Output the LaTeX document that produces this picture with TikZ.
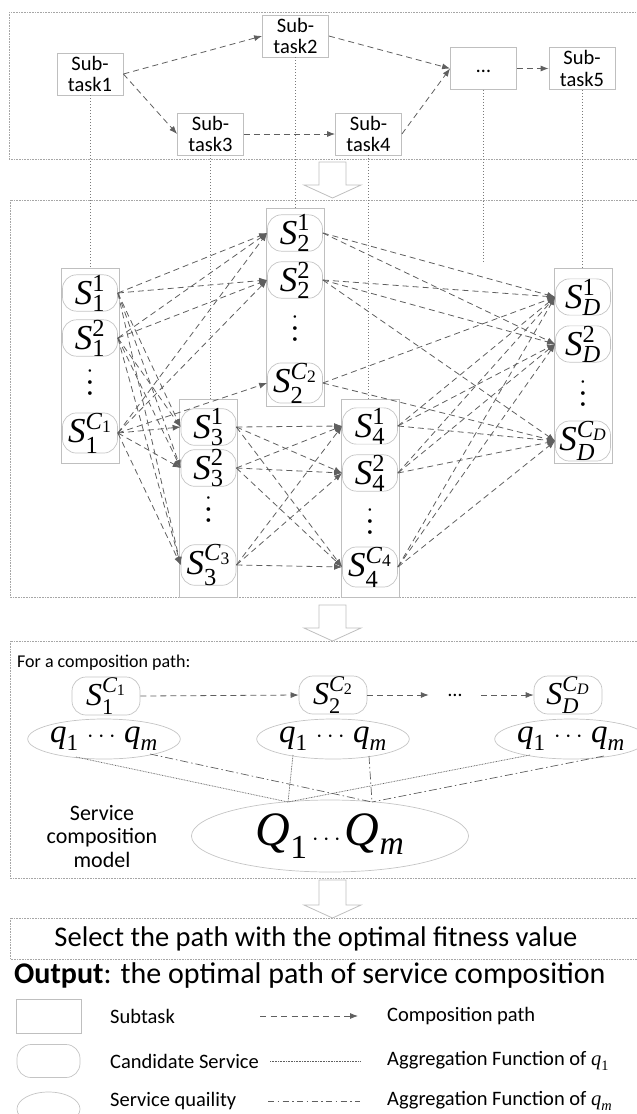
\documentclass[tikz,border=0pt]{standalone}
\usepackage{amsmath}
\usepackage{fontspec}
\setmainfont{Carlito}
\newfontfamily\tim{Liberation Serif}
\usetikzlibrary{arrows.meta,calc,shapes.geometric}
\definecolor{framegray}{HTML}{A6A6A6}
\definecolor{boxgray}{HTML}{BFBFBF}
\definecolor{nodegray}{HTML}{C4C4C4}
\definecolor{linegray}{HTML}{5F5F5F}
\definecolor{guidegray}{HTML}{7A7A7A}
\newcommand{\mi}[1]{\text{\tim\itshape #1}}
\newcommand{\mr}[1]{\text{\tim #1}}
\newcommand{\Sv}[2]{$\mi{S}^{#2}_{#1}$}
\newcommand{\vd}{\tim •\\•\\•}
\begin{document}
\begin{tikzpicture}[x=1pt,y=-1pt,
  frame/.style={draw=framegray, line width=0.6pt, dash pattern=on 0.8pt off 0.8pt},
  task/.style={draw=boxgray, line width=0.8pt, minimum width=66pt, minimum height=42pt, inner sep=0pt, align=center, font=\fontsize{20.5}{21.5}\selectfont},
  grp/.style={draw=boxgray, line width=0.8pt, minimum width=58pt, inner sep=0pt},
  cand/.style={draw=nodegray, line width=0.7pt, rounded corners=14pt, minimum width=55pt, minimum height=35pt, inner sep=0pt, font=\fontsize{35}{35}\selectfont},
  cand2/.style={cand, minimum width=68pt, minimum height=38pt, font=\fontsize{32}{32}\selectfont},
  qell/.style={ellipse, draw=nodegray, line width=0.7pt, minimum width=132pt, minimum height=40pt, inner sep=0pt, font=\fontsize{33}{33}\selectfont},
  vdot/.style={align=center, inner sep=0pt, font=\fontsize{10.5}{11}\selectfont},
  cpath/.style={draw=linegray, line width=0.8pt, dash pattern=on 6pt off 4pt, -{Latex[length=8pt,width=6pt]}},
  guide/.style={draw=guidegray, line width=0.7pt, dash pattern=on 1pt off 2pt},
  agg1/.style={draw=linegray, line width=0.7pt, dash pattern=on 0.8pt off 0.8pt},
  aggm/.style={draw=linegray, line width=0.7pt, dash pattern=on 8pt off 3pt on 1.5pt off 3pt},
  barrow/.style={draw=boxgray, line width=0.8pt, fill=white},
  txt/.style={inner sep=0pt, font=\fontsize{20.5}{22}\selectfont}
]
\useasboundingbox (0,0) rectangle (637,1114);

% frames
\draw[frame] (9,12) rectangle (645,159);
\draw[frame] (10,200) rectangle (645,597);
\draw[frame] (10,641) rectangle (645,878);
\draw[frame] (10,918) rectangle (645,959);

% block arrows
\draw[barrow] (319,162) -- (346,162) -- (346,185) -- (361,185) -- (332.5,198) -- (304,185) -- (319,185) -- cycle;
\draw[barrow] (319,605) -- (346,605) -- (346,628) -- (361,628) -- (332.5,641) -- (304,628) -- (319,628) -- cycle;
\draw[barrow] (319,880) -- (346,880) -- (346,905) -- (361,905) -- (332.5,918) -- (304,905) -- (319,905) -- cycle;

% subtasks
\node[task] (st1) at (90,74) {Sub-\\task1};
\node[task] (st2) at (295.5,36) {Sub-\\task2};
\node[task] (st3) at (210.5,134) {Sub-\\task3};
\node[task] (st4) at (368.5,134) {Sub-\\task4};
\node[task] (dd) at (483.5,68.5) {\strut…};
\node[task] (st5) at (582,68.5) {Sub-\\task5};

\draw[cpath] (st1.east) -- (st2.west);
\draw[cpath] (st1.east) -- (st3.west);
\draw[cpath] (st2.east) -- (dd.west);
\draw[cpath] (st3.east) -- (st4.west);
\draw[cpath] (st4.east) -- (dd.west);
\draw[cpath] (dd.east) -- (st5.west);

% groups
\node[grp, minimum height=195pt] (g1) at (90,365.5) {};
\node[grp, minimum height=198pt] (g2) at (295,307) {};
\node[grp, minimum height=198pt] (g3) at (208.5,498) {};
\node[grp, minimum height=198pt] (g4) at (370,498) {};
\node[grp, minimum height=195pt] (gd) at (583,365.5) {};

% guides
\coordinate (ddend) at (483.5,262);
\draw[guide] (st1.south) -- (st1.south |- g1.north);
\draw[guide] (st2.south) -- (st2.south |- g2.north);
\draw[guide] (st3.south) -- (st3.south |- g3.north);
\draw[guide] (st4.south) -- (st4.south |- g4.north);
\draw[guide] (dd.south) -- (ddend);
\draw[guide] (st5.south) -- (st5.south |- gd.north);

% candidate services
\node[cand] (s11) at (90,293) {\Sv{\mr{1}}{\mr{1}}};
\node[cand] (s12) at (90,338) {\Sv{\mr{1}}{\mr{2}}};
\node[vdot] (v1) at (90,383) {\vd};
\node[cand] (s1c) at (90,433) {\Sv{\mr{1}}{\mi{C}_{\mr{1}}}};

\node[cand] (s21) at (295,233) {\Sv{\mr{2}}{\mr{1}}};
\node[cand] (s22) at (295,280) {\Sv{\mr{2}}{\mr{2}}};
\node[vdot] (v2) at (295,329) {\vd};
\node[cand] (s2c) at (295,383) {\Sv{\mr{2}}{\mi{C}_{\mr{2}}}};

\node[cand] (s31) at (208.5,427) {\Sv{\mr{3}}{\mr{1}}};
\node[cand] (s32) at (208.5,468) {\Sv{\mr{3}}{\mr{2}}};
\node[vdot] (v3) at (208.5,510) {\vd};
\node[cand] (s3c) at (208.5,565) {\Sv{\mr{3}}{\mi{C}_{\mr{3}}}};

\node[cand] (s41) at (370,426) {\Sv{\mr{4}}{\mr{1}}};
\node[cand] (s42) at (370,473) {\Sv{\mr{4}}{\mr{2}}};
\node[vdot] (v4) at (370,522) {\vd};
\node[cand] (s4c) at (370,567) {\Sv{\mr{4}}{\mi{C}_{\mr{4}}}};

\node[cand] (sd1) at (583,297) {\Sv{\mi{D}}{\mr{1}}};
\node[cand] (sd2) at (583,344) {\Sv{\mi{D}}{\mr{2}}};
\node[vdot] (vd) at (583,394) {\vd};
\node[cand] (sdc) at (583,441) {\Sv{\mi{D}}{\mi{C}_{\mi{D}}}};

\foreach \a/\b in {s11/s21,s11/s22,s12/s21,s12/s22,s1c/s21,s1c/s22,s1c/s2c,
  s11/s31,s11/s32,s11/s3c,s12/s31,s12/s32,s12/s3c,s1c/s31,s1c/s32,s1c/s3c,
  s21/sd1,s21/sd2,s22/sd1,s22/sd2,s22/sdc,s2c/sd1,s2c/sdc,
  s31/s41,s31/s42,s31/s4c,s32/s41,s32/s42,s32/s4c,s3c/s41,s3c/s42,s3c/s4c,
  s41/sd1,s41/sd2,s41/sdc,s42/sd1,s42/sd2,s42/sdc,s4c/sd1,s4c/sd2,s4c/sdc}
  \draw[cpath] (\a.east) -- (\b.west);

% composition path section
\node[anchor=west, inner sep=0pt, font=\fontsize{18}{20}\selectfont] (fcp) at (17,663) {For a composition path:};
\node[cand2] (c1) at (106,696) {\Sv{\mr{1}}{\mi{C}_{\mr{1}}}};
\node[cand2] (c2) at (333,695) {\Sv{\mr{2}}{\mi{C}_{\mr{2}}}};
\node[cand2] (cd) at (568,695) {\Sv{\mi{D}}{\mi{C}_{\mi{D}}}};
\node[minimum width=52pt, inner sep=0pt, font=\fontsize{20}{20}\selectfont] (cdots) at (455,695) {…};
\draw[cpath] (c1.east) -- (c2.west);
\draw[cpath] (c2.east) -- (cdots.west);
\draw[cpath] (cdots.east) -- (cd.west);

\node[qell] (e1) at (104,739) {$\mi{q}_{\mr{1}}\,\cdots\,\mi{q}_{\mi{m}}$};
\node[qell] (e2) at (333,739) {$\mi{q}_{\mr{1}}\,\cdots\,\mi{q}_{\mi{m}}$};
\node[qell] (e3) at (571,739) {$\mi{q}_{\mr{1}}\,\cdots\,\mi{q}_{\mi{m}}$};

\node[ellipse, draw=nodegray, line width=0.7pt, minimum width=277pt, minimum height=72pt, inner sep=0pt, font=\fontsize{48}{48}\selectfont] (QQ) at (330,836) {$\mi{Q}_{\mr{1}}\cdots\mi{Q}_{\mi{m}}$};
\node[align=center, inner sep=0pt, font=\fontsize{22}{23.5}\selectfont] (scm) at (102,836) {Service\\composition\\model};

\coordinate (p1) at (288,802);
\coordinate (pm) at (372,802);
\draw[agg1] ($(e1.center)+(-28,18)$) -- (p1);
\draw[agg1] ($(e2.center)+(-40,16)$) -- (p1);
\draw[agg1] ($(e3.center)+(-41,16)$) -- (p1);
\draw[aggm] ($(e1.center)+(46,15)$) -- (pm);
\draw[aggm] ($(e2.center)+(36,17)$) -- (pm);
\draw[aggm] ($(e3.center)+(33,17)$) -- (pm);

% select and output
\node[inner sep=0pt, font=\fontsize{28.5}{30}\selectfont] (sel) at (316,938.5) {Select the path with the optimal fitness value};
\node[anchor=west, inner sep=0pt, font=\fontsize{30}{32}\selectfont] (out) at (14,975) {\textbf{Output}: the optimal path of service composition};

% legend
\node[task, minimum width=65pt, minimum height=34pt] (lg1) at (48.5,1016) {};
\node[cand, minimum width=63pt, minimum height=33pt] (lg2) at (48.5,1061) {};
\node[qell, minimum width=63pt, minimum height=34pt] (lg3) at (48.5,1109) {};
\node[txt, anchor=west] (lt1) at (110,1016) {Subtask};
\node[txt, anchor=west] (lt2) at (110,1061) {Candidate Service};
\node[txt, anchor=west] (lt3) at (110,1101) {Service quaility};
\coordinate (la1) at (260,1016);
\coordinate (lb1) at (358,1016);
\coordinate (la2) at (270,1061);
\coordinate (lb2) at (360,1061);
\coordinate (la3) at (268,1101);
\coordinate (lb3) at (360,1101);
\draw[cpath, dash pattern=on 6pt off 4.5pt] (la1) -- (lb1);
\draw[agg1] (la2) -- (lb2);
\draw[aggm, dash pattern=on 6pt off 3.5pt on 1.5pt off 3.5pt] (la3) -- (lb3);
\node[txt, anchor=west] (lr1) at (387,1016) {Composition path};
\node[txt, anchor=west] (lr2) at (387,1061) {Aggregation Function of $\mi{q}_{\mr{1}}$};
\node[txt, anchor=west] (lr3) at (387,1101) {Aggregation Function of $\mi{q}_{\mi{m}}$};
\end{tikzpicture}
\end{document}
